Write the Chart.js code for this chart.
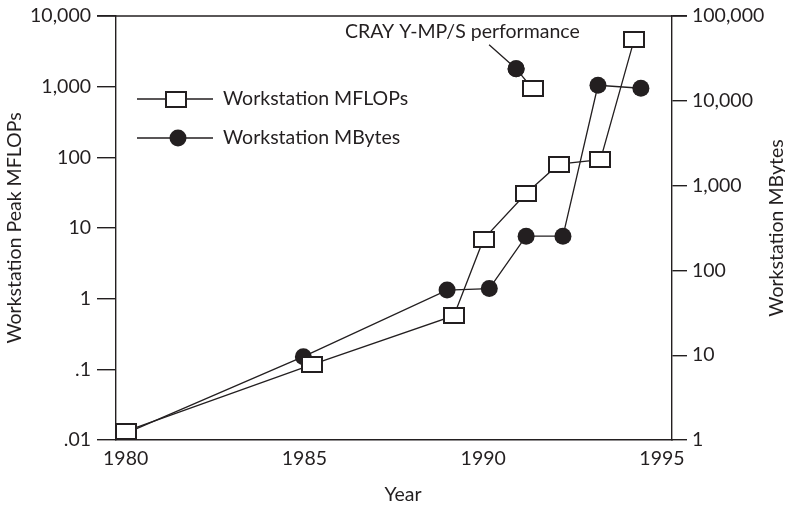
<!DOCTYPE html>
<html>
<head>
<meta charset="utf-8">
<script src="https://cdn.jsdelivr.net/npm/chart.js@4.4.0/dist/chart.umd.min.js"></script>
<style>
  html, body { margin: 0; padding: 0; background: #fff; }
</style>
</head>
<body>
<canvas id="chart" width="785" height="507"></canvas>
<script>
// Data
const flopsYears = [1980.01, 1985.21, 1989.18, 1990.01, 1991.19, 1992.11, 1993.28, 1994.22];
const flopsValues = [0.0134, 0.117, 0.575, 6.95, 30.5, 80, 92.5, 4600];

const mbytesYears = [1980.0, 1984.97, 1988.99, 1990.17, 1991.2, 1992.23, 1993.21, 1994.41];
const mbytesValues = [1.2, 9.6, 58.6, 61, 253, 253, 15240, 14060];

// CRAY Y-MP/S reference point (MFLOPs on left axis, MBytes on right axis)
const crayYears = [1991.38, 1990.92];
const crayFlops = [934];
const crayMbytes = [23900];
const crayLabel = 'CRAY Y-MP/S performance';

const leftTicks = [0.01, 0.1, 1, 10, 100, 1000, 10000];
const leftTickLabels = ['.01', '.1', '1', '10', '100', '1,000', '10,000'];
const rightTicks = [1, 10, 100, 1000, 10000, 100000];
const rightTickLabels = ['1', '10', '100', '1,000', '10,000', '100,000'];
const yearTicks = [1980, 1985, 1990, 1995];

const ink = '#231f20';
const FONT = 'Lato, "Open Sans", sans-serif';

// open rectangle marker used for MFLOPs points
function boxMarker(w, h) {
    const c = document.createElement('canvas');
    c.width = w + 2;
    c.height = h + 2;
    const g = c.getContext('2d');
    g.fillStyle = '#fff';
    g.fillRect(1, 1, w, h);
    g.fillStyle = ink;
    // crisp 1.5px-ish border built from filled strips
    g.fillRect(0, 0, w + 2, 2);
    g.fillRect(0, h, w + 2, 2);
    g.fillRect(0, 0, 2, h + 2);
    g.fillRect(w, 0, 2, h + 2);
    g.fillStyle = '#fff';
    g.fillRect(2, 2, w - 2, h - 2);
    return c;
}
const box = boxMarker(20, 15);

const toPoints = (xs, ys) => ys.map((v, i) => ({ x: xs[i], y: v }));

// keep image markers crisp
const crisp = {
    id: 'crisp',
    beforeDraw(chart) { chart.ctx.imageSmoothingEnabled = false; }
};

// Frame, legend, axis titles and the CRAY note
const decor = {
    id: 'decor',
    afterDraw(chart) {
        const ctx = chart.ctx;
        const a = chart.chartArea;
        ctx.save();
        ctx.strokeStyle = ink;
        ctx.lineWidth = 1.4;
        // top edge of the box
        ctx.beginPath();
        ctx.moveTo(a.left - 19, a.top);
        ctx.lineTo(a.right + 15, a.top);
        ctx.stroke();

        // CRAY connector: label -> circle -> square
        const sq = chart.getDatasetMeta(2).data[0];
        const ci = chart.getDatasetMeta(3).data[0];
        ctx.lineWidth = 1.3;
        ctx.beginPath();
        ctx.moveTo(ci.x - 27, ci.y - 24);
        ctx.lineTo(ci.x, ci.y);
        ctx.lineTo(sq.x, sq.y);
        ctx.stroke();
        ctx.restore();
        ci.draw(ctx, a);
        sq.draw(ctx, a);

        ctx.save();
        ctx.strokeStyle = ink;
        ctx.fillStyle = ink;
        ctx.lineWidth = 1.3;
        ctx.globalAlpha = 1;
        ctx.font = '19.5px ' + FONT;
        ctx.textBaseline = 'alphabetic';
        ctx.textAlign = 'left';
        ctx.fillText(crayLabel, 345, 38);

        // legend
        ctx.beginPath();
        ctx.moveTo(137, 99); ctx.lineTo(213, 99);
        ctx.moveTo(137, 138); ctx.lineTo(213, 138);
        ctx.stroke();
        ctx.drawImage(box, 176 - box.width / 2, Math.round(99 - box.height / 2));
        ctx.beginPath();
        ctx.arc(178, 138, 8.5, 0, Math.PI * 2);
        ctx.fill();
        ctx.textBaseline = 'middle';
        ctx.fillText('Workstation MFLOPs', 223, 99);
        ctx.fillText('Workstation MBytes', 223, 138);

        // axis titles
        ctx.textAlign = 'center';
        ctx.fillText('Year', 403, 495);
        ctx.save();
        ctx.translate(15, 228);
        ctx.rotate(-Math.PI / 2);
        ctx.fillText('Workstation Peak MFLOPs', 0, 0);
        ctx.restore();
        ctx.save();
        ctx.translate(777, 228);
        ctx.rotate(-Math.PI / 2);
        ctx.fillText('Workstation MBytes', 0, 0);
        ctx.restore();
        ctx.restore();
    }
};

const tickFont = { family: FONT, size: 19.5 };

new Chart(document.getElementById('chart'), {
    type: 'line',
    data: {
        datasets: [
            {
                label: 'Workstation MFLOPs',
                data: toPoints(flopsYears, flopsValues),
                yAxisID: 'y',
                borderColor: ink,
                borderWidth: 1.3,
                pointStyle: box,
                pointRadius: 8,
                tension: 0
            },
            {
                label: 'Workstation MBytes',
                data: toPoints(mbytesYears, mbytesValues),
                yAxisID: 'y1',
                borderColor: ink,
                borderWidth: 1.3,
                pointStyle: 'circle',
                pointRadius: mbytesValues.map((_, i) => i === 0 ? 0 : 8.5),
                pointBackgroundColor: ink,
                pointBorderColor: ink,
                pointBorderWidth: 0,
                tension: 0
            },
            {
                label: 'CRAY MFLOPs',
                data: toPoints([crayYears[0]], crayFlops),
                yAxisID: 'y',
                showLine: false,
                pointStyle: box,
                pointRadius: 0.5
            },
            {
                label: 'CRAY MBytes',
                data: toPoints([crayYears[1]], crayMbytes),
                yAxisID: 'y1',
                showLine: false,
                pointStyle: 'circle',
                pointRadius: 8.5,
                pointBackgroundColor: ink,
                pointBorderColor: ink,
                pointBorderWidth: 0
            }
        ]
    },
    options: {
        responsive: false,
        animation: false,
        events: [],
        layout: { padding: { top: 16, left: 0, right: 0, bottom: 0 } },
        plugins: { legend: { display: false }, tooltip: { enabled: false } },
        scales: {
            x: {
                type: 'linear',
                min: 1979.73,
                max: 1995.28,
                afterBuildTicks: s => { s.ticks = yearTicks.map(v => ({ value: v })); },
                afterFit: s => { s.height = 67; s.paddingLeft = 0; s.paddingRight = 0; },
                ticks: { color: ink, font: tickFont, padding: 7, maxRotation: 0, autoSkip: false, callback: v => String(v) },
                grid: { display: true, drawOnChartArea: false, drawTicks: false },
                border: { color: ink, width: 1.4 }
            },
            y: {
                type: 'logarithmic',
                position: 'left',
                min: 0.01,
                max: 10000,
                afterBuildTicks: s => { s.ticks = leftTicks.map(v => ({ value: v })); },
                afterFit: s => { s.width = 116; s.paddingTop = 0; s.paddingBottom = 0; },
                ticks: {
                    color: ink, font: tickFont, padding: 6, autoSkip: false,
                    callback: v => leftTickLabels[leftTicks.indexOf(v)]
                },
                grid: { drawOnChartArea: false, drawTicks: true, tickLength: 19, color: ink, lineWidth: 1.4 },
                border: { color: ink, width: 1.4 }
            },
            y1: {
                type: 'logarithmic',
                position: 'right',
                min: 1,
                max: 100000,
                afterBuildTicks: s => { s.ticks = rightTicks.map(v => ({ value: v })); },
                afterFit: s => { s.width = 113; s.paddingTop = 0; s.paddingBottom = 0; },
                ticks: {
                    color: ink, font: tickFont, padding: 5, autoSkip: false,
                    callback: v => rightTickLabels[rightTicks.indexOf(v)]
                },
                grid: { drawOnChartArea: false, drawTicks: true, tickLength: 15, color: ink, lineWidth: 1.4 },
                border: { color: ink, width: 1.4 }
            }
        }
    },
    plugins: [crisp, decor]
});
</script>
</body>
</html>
